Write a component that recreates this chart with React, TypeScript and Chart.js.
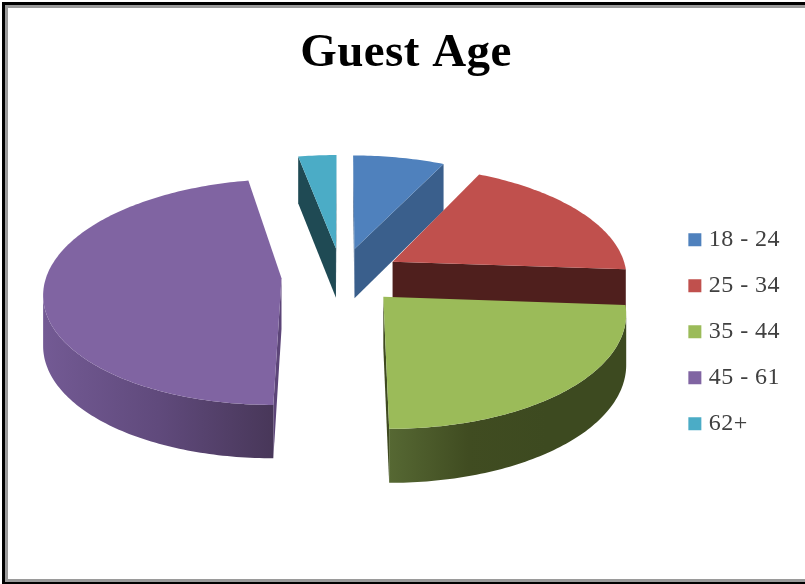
import React, { useEffect, useRef } from "react";
import { Chart, registerables } from "chart.js";

Chart.register(...registerables);

const ageGroups = ["18 - 24", "25 - 34", "35 - 44", "45 - 61", "62+"];
const guestShares = [7.2, 18.9, 23.9, 47.0, 3.0];
const topColors = ["#4f81bd", "#c0504d", "#9bbb59", "#8064a2", "#4bacc6"];
const edgeColors = ["#3a5f8c", "#4f1f1d", "#3f4a20", "#5c4578", "#1f4a54"];
const wallStops: string[][] = [
  ["#3a5f8c", "#3a5f8c"],
  ["#4f1f1d", "#4f1f1d"],
  ["#566833", "#404c21", "#3d4a20", "#3d4a20"],
  ["#735a94", "#604a7c", "#483759"],
  ["#1f4a54", "#1f4a54"],
];

const TILT = 0.471;
const PERSPECTIVE = 0.12;
const DEPTH = 50;
const LIFT = 56;
const SHIFT_X = -5;
const STEP = Math.PI / 180;

const pie3d = {
  id: "pie3d",
  afterInit(chart: any) {
    chart.ctx.letterSpacing = "0.45px";
  },
  beforeDraw(chart: any) {
    const { ctx, width, height } = chart;
    ctx.save();
    ctx.fillStyle = "#ffffff";
    ctx.fillRect(0, 0, width, height);
    ctx.fillStyle = "#9a9a9a";
    ctx.fillRect(5, 5, 3, height - 5);
    ctx.fillRect(5, 5, width - 5, 3);
    ctx.fillRect(5, height - 5, width - 5, 3);
    ctx.fillStyle = "#000000";
    ctx.fillRect(2, 2, 3, height - 2);
    ctx.fillRect(2, 2, width - 2, 3);
    ctx.fillRect(2, height - 2, width - 2, 2);
    ctx.restore();
  },
  beforeDatasetsDraw(chart: any) {
    const { ctx } = chart;
    const arcs = chart.getDatasetMeta(0).data;
    const poly = (pts: number[][], fill: any) => {
      ctx.beginPath();
      pts.forEach((p, i) => (i ? ctx.lineTo(p[0], p[1]) : ctx.moveTo(p[0], p[1])));
      ctx.closePath();
      ctx.fillStyle = fill;
      ctx.fill();
    };
    const slices = arcs.map((arc: any, index: number) => {
      const { x, y, startAngle, endAngle, outerRadius: R } = arc.getProps(
        ["x", "y", "startAngle", "endAngle", "outerRadius"],
        true
      );
      const mid = (startAngle + endAngle) / 2;
      const d = (arc.options.offset || 0) / R;
      const ax = d * Math.cos(mid);
      const ay = d * Math.sin(mid);
      const project = (X: number, Y: number, z: number) => {
        const p = 1 / (1 - PERSPECTIVE * Y);
        return [x + SHIFT_X + R * X * p, y - LIFT + R * TILT * Y * p + z * DEPTH * Math.sqrt(p)];
      };
      const rimAngles: number[] = [];
      const n = Math.max(2, Math.ceil((endAngle - startAngle) / STEP));
      for (let i = 0; i <= n; i++) rimAngles.push(startAngle + ((endAngle - startAngle) * i) / n);
      const rim = (a: number, z: number) => project(ax + Math.cos(a), ay + Math.sin(a), z);
      return { index, ax, ay, rimAngles, rim, project, apexY: project(ax, ay, 0)[1] };
    });
    slices.sort((a: any, b: any) => a.apexY - b.apexY);
    for (const s of slices) {
      const apexT = s.project(s.ax, s.ay, 0);
      const apexB = s.project(s.ax, s.ay, 1);
      const first = s.rimAngles[0];
      const last = s.rimAngles[s.rimAngles.length - 1];
      const cross = (a: number[], b: number[], c: number[]) =>
        (b[0] - a[0]) * (c[1] - b[1]) - (b[1] - a[1]) * (c[0] - b[0]);
      const st = s.rim(first, 0);
      const sb = s.rim(first, 1);
      if (cross(apexT, st, sb) < 0) poly([apexT, st, sb, apexB], edgeColors[s.index]);
      const et = s.rim(last, 0);
      const eb = s.rim(last, 1);
      if (cross(apexT, et, eb) > 0) poly([apexT, et, eb, apexB], edgeColors[s.index]);
      const visible: number[][] = [];
      const lower: number[][] = [];
      s.rimAngles.forEach((a: number, i: number) => {
        const t = s.rim(a, 0);
        const next = s.rim(s.rimAngles[Math.min(i + 1, s.rimAngles.length - 1)], 0);
        const prev = s.rim(s.rimAngles[Math.max(i - 1, 0)], 0);
        if (next[0] < t[0] || prev[0] > t[0]) {
          visible.push(t);
          lower.unshift(s.rim(a, 1));
        }
      });
      if (visible.length > 1) {
        const xs = visible.map((p) => p[0]);
        const g = ctx.createLinearGradient(Math.min(...xs), 0, Math.max(...xs), 0);
        const stops = wallStops[s.index];
        stops.forEach((c, i) => g.addColorStop(i / (stops.length - 1), c));
        poly([...visible, ...lower], g);
      }
      poly([apexT, ...s.rimAngles.map((a: number) => s.rim(a, 0))], topColors[s.index]);
    }
    return false;
  },
};

export default function App() {
  const ref = useRef<HTMLCanvasElement | null>(null);
  useEffect(() => {
    const chart = new Chart(ref.current as HTMLCanvasElement, {
      type: "pie",
      data: {
        labels: ageGroups,
        datasets: [
          {
            data: guestShares,
            backgroundColor: topColors,
            borderWidth: 0,
            offset: 60,
          } as any,
        ],
      },
      plugins: [pie3d],
      options: {
        responsive: false,
        animation: false,
        radius: 235,
        layout: { padding: { left: 22, right: 15, bottom: 21 } },
        plugins: {
          tooltip: { enabled: false },
          title: {
            display: true,
            text: "Guest Age",
            color: "#000000",
            font: { family: "'Liberation Serif'", size: 47, weight: "bold" },
            padding: { top: 26, bottom: 18 },
          },
          legend: {
            position: "right",
            fullSize: false,
            labels: {
              usePointStyle: true,
              pointStyle: "rect",
              boxWidth: 4,
              boxHeight: 13,
              padding: 22,
              color: "#404040",
              font: { family: "'Liberation Serif'", size: 24 },
            },
          },
        },
      } as any,
    });
    return () => chart.destroy();
  }, []);
  return (
    <div style={{ position: "absolute", left: 0, top: 0, width: 805, height: 584 }}>
      <canvas ref={ref} width={805} height={584} />
    </div>
  );
}
